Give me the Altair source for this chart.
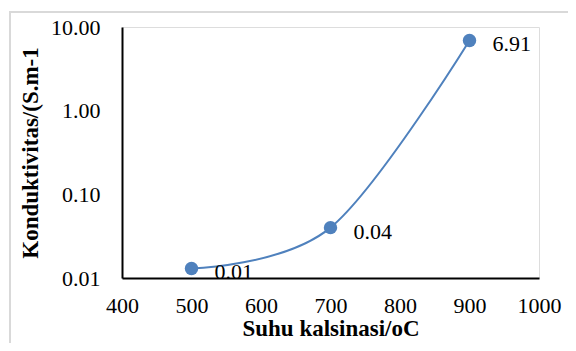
import altair as alt
import pandas as pd

suhu = [500, 700, 900]
konduktivitas = [0.013, 0.04, 6.91]
x_ticks = [400, 500, 600, 700, 800, 900, 1000]
y_ticks = [0.01, 0.1, 1, 10]

df = pd.DataFrame({"suhu": suhu, "k": konduktivitas})

FONT = "'Liberation Serif', 'Times New Roman', serif"
BLUE = "#4f81bd"

x_enc = alt.X("suhu:Q",
              scale=alt.Scale(domain=[400, 1000], nice=False, zero=False),
              axis=alt.Axis(values=x_ticks, format="d", title="Suhu kalsinasi/oC", grid=False,
                            ticks=False, domainColor="black", domainWidth=2, labelFlush=False,
                            labelFont=FONT, labelFontSize=22, labelColor="black",
                            labelPadding=17, titleFont=FONT, titleFontSize=23,
                            titleFontWeight="bold", titleColor="black", titlePadding=1))
y_enc = alt.Y("k:Q",
              scale=alt.Scale(type="log", domain=[0.01, 10], nice=False),
              axis=alt.Axis(values=y_ticks, format=".2f", title="Konduktivitas/(S.m-1",
                            grid=False, ticks=False, domainColor="black", domainWidth=2,
                            labelFlush=False,
                            labelFont=FONT, labelFontSize=22, labelColor="black",
                            labelPadding=22, titleFont=FONT, titleFontSize=23,
                            titleFontWeight="bold", titleColor="black", titlePadding=8))

base = alt.Chart(df)

frame = base.mark_rect(fill=None, stroke="#d9d9d9", strokeWidth=2).encode(
    x=alt.value(-112), x2=alt.value(480), y=alt.value(-15), y2=alt.value(360)
)

line = base.mark_line(color=BLUE, strokeWidth=2, interpolate="cardinal", tension=0).encode(
    x=x_enc, y=y_enc
)
points = base.mark_point(filled=True, color=BLUE, opacity=1, size=180).encode(
    x="suhu:Q", y="k:Q"
)
labels = base.mark_text(align="left", baseline="middle", dx=23, dy=4, font=FONT,
                        fontSize=22, color="black").encode(
    x="suhu:Q", y="k:Q", text=alt.Text("k:Q", format=".2f")
)

chart = alt.layer(frame, line, points, labels).properties(
    width=417, height=251,
    autosize=alt.AutoSizeParams(type="none"),
    padding={"left": 114, "top": 19, "right": 29, "bottom": 65},
).configure_view(stroke=None).configure(background="white")

chart.save("out.html", embed_options={"renderer": "svg", "actions": False})
